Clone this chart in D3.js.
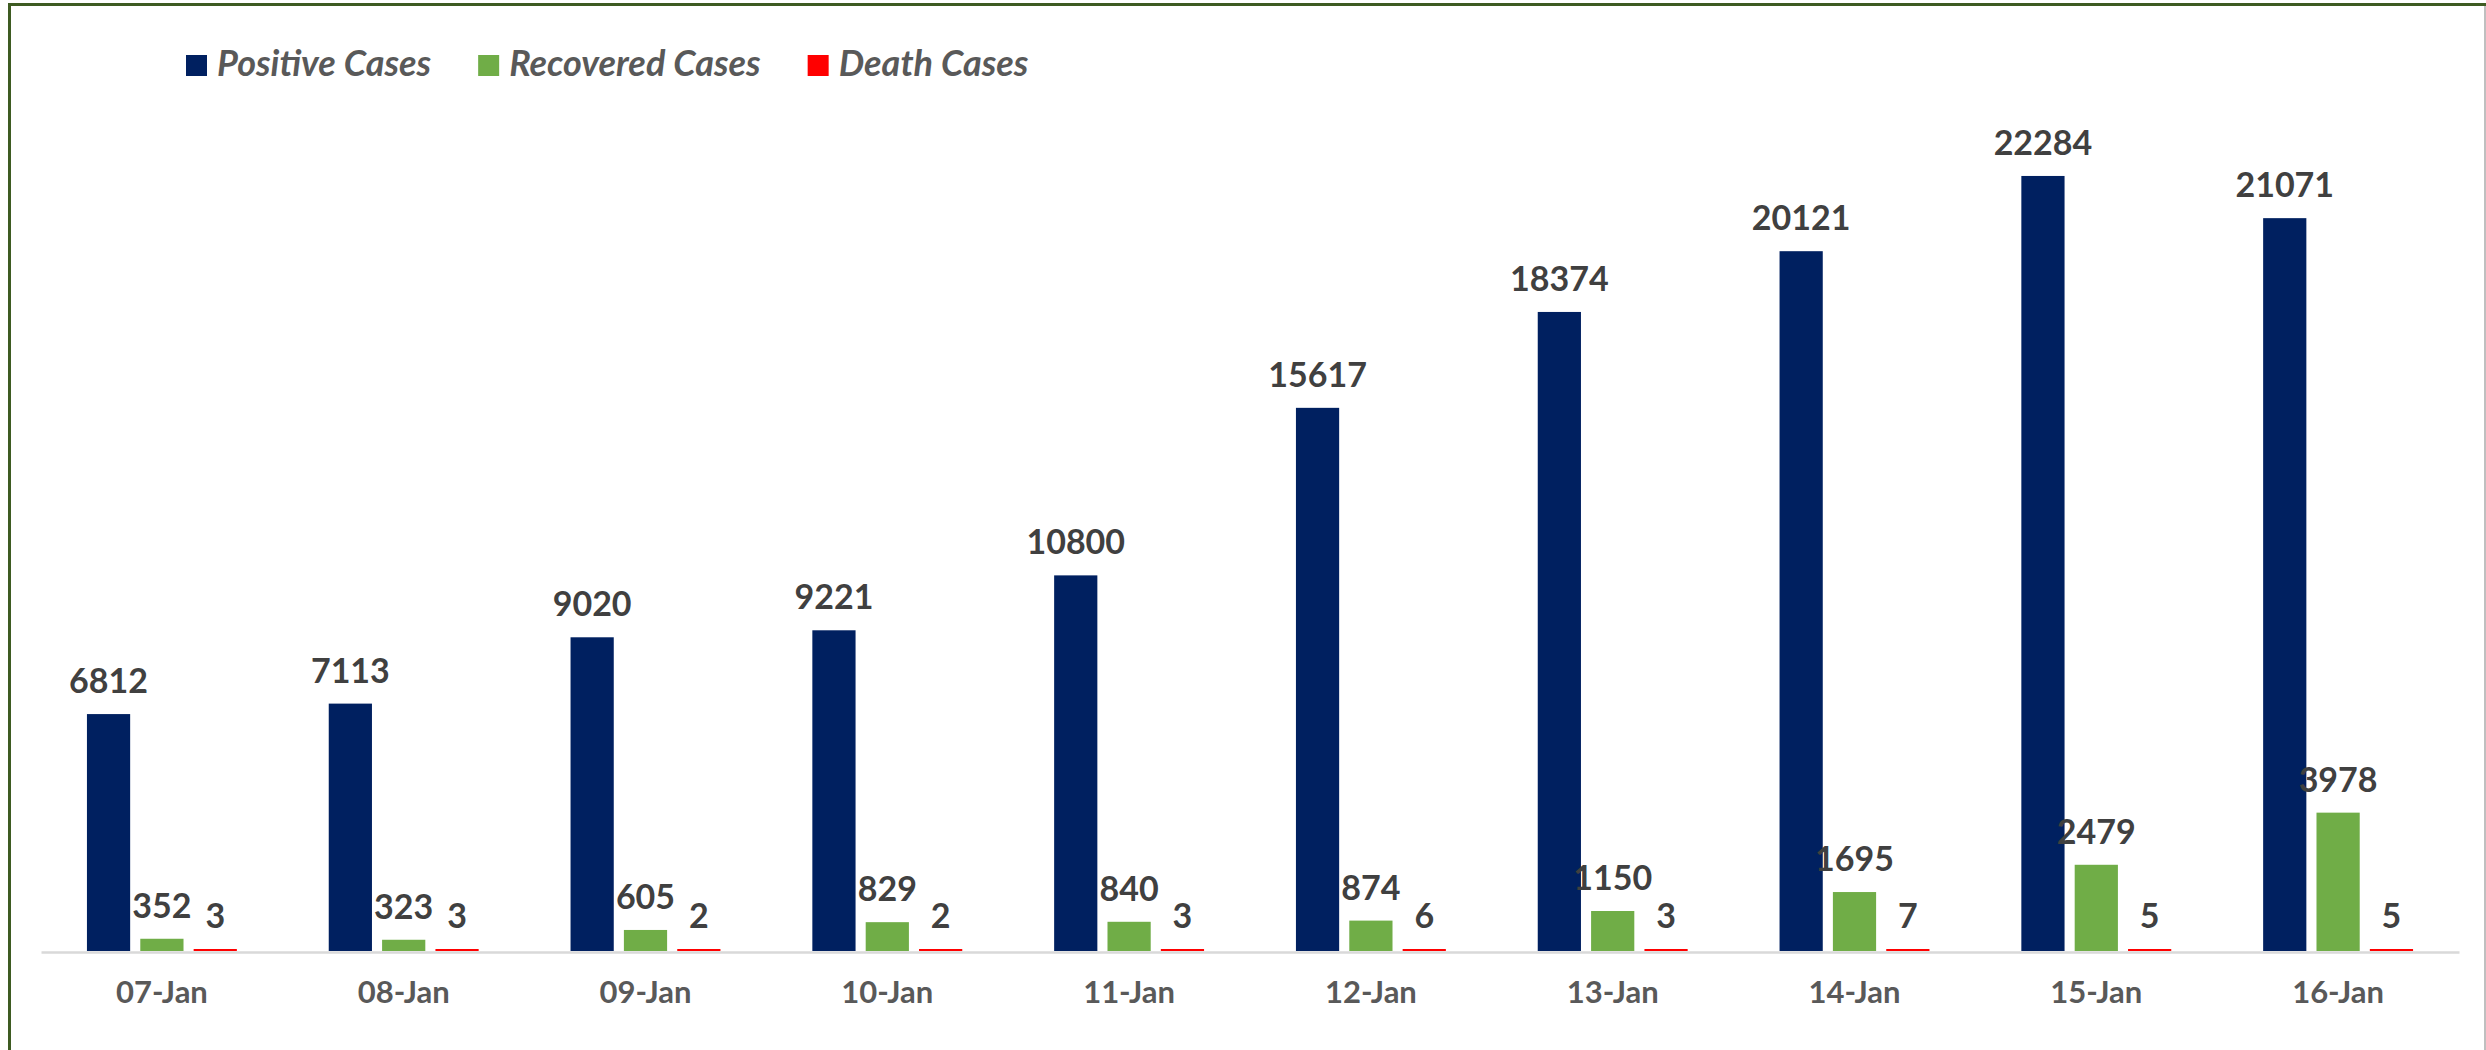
<!DOCTYPE html>
<html>
<head>
<meta charset="utf-8">
<script src="https://cdn.jsdelivr.net/npm/d3@7"></script>
<style>
  html, body { margin: 0; padding: 0; background: #ffffff; }
  svg { display: block; }
</style>
</head>
<body>
<svg id="chart" width="2486" height="1050"></svg>
<script>
const dates = ["07-Jan", "08-Jan", "09-Jan", "10-Jan", "11-Jan", "12-Jan", "13-Jan", "14-Jan", "15-Jan", "16-Jan"];
const seriesNames = ["Positive Cases", "Recovered Cases", "Death Cases"];
const positive = [6812, 7113, 9020, 9221, 10800, 15617, 18374, 20121, 22284, 21071];
const recovered = [352, 323, 605, 829, 840, 874, 1150, 1695, 2479, 3978];
const deaths = [3, 3, 2, 2, 3, 6, 3, 7, 5, 5];
const colors = ["#002060", "#70AD47", "#FF0000"];

const seriesValues = [positive, recovered, deaths];
const rows = dates.map((d, i) => ({ date: d, values: seriesNames.map((s, k) => ({ key: s, value: seriesValues[k][i], k })) }));

const W = 2486, H = 1050;
const svg = d3.select("#chart");
const FONT = "Lato, 'Open Sans', 'DejaVu Sans', sans-serif";

// frame
svg.append("line").attr("x1", 8).attr("x2", W).attr("y1", 4.5).attr("y2", 4.5)
  .attr("stroke", "#3E5B22").attr("stroke-width", 3);
svg.append("line").attr("x1", 9.5).attr("x2", 9.5).attr("y1", 3).attr("y2", H)
  .attr("stroke", "#3E5B22").attr("stroke-width", 3);
svg.append("line").attr("x1", 2485).attr("x2", 2485).attr("y1", 6).attr("y2", H)
  .attr("stroke", "#BFBFBF").attr("stroke-width", 2);

const x0 = d3.scaleBand().domain(dates).range([41, 2459]).paddingInner(0.38).paddingOuter(0.19);
const x1 = d3.scaleBand().domain(seriesNames).range([0, x0.bandwidth()]).paddingInner(0.19);
const y = d3.scaleLinear().domain([0, 25000]).range([951, 81.5]);
const color = d3.scaleOrdinal().domain(seriesNames).range(colors);

const g = svg.append("g");
const groups = g.selectAll("g.grp").data(rows).join("g")
  .attr("class", "grp")
  .attr("transform", d => `translate(${x0(d.date)},0)`);

groups.selectAll("rect").data(d => d.values).join("rect")
  .attr("x", d => x1(d.key))
  .attr("width", x1.bandwidth())
  .attr("y", d => Math.min(y(d.value), y(0) - 2))
  .attr("height", d => Math.max(2, y(0) - y(d.value)))
  .attr("fill", d => color(d.key));

groups.selectAll("text").data(d => d.values).join("text")
  .attr("x", d => x1(d.key) + x1.bandwidth() / 2)
  .attr("y", d => Math.min(y(d.value), y(0) - 2) - 21)
  .attr("text-anchor", "middle")
  .attr("font-family", FONT)
  .attr("font-weight", "bold")
  .attr("font-size", 34)
  .attr("fill", "#404040")
  .text(d => d.value);

// x axis
const xAxis = d3.axisBottom(x0).tickSize(0).tickPadding(0).tickSizeOuter(0);
const ax = svg.append("g").attr("transform", `translate(0,${y(0) + 1})`).call(xAxis);
ax.select(".domain").attr("stroke", "#D9D9D9").attr("stroke-width", 2.5);
ax.selectAll(".tick text")
  .attr("dy", 0)
  .attr("y", 51)
  .attr("font-family", FONT)
  .attr("font-weight", "bold")
  .attr("font-size", 31)
  .attr("fill", "#595959");

// legend
const legend = svg.append("g");
let lx = 186;
seriesNames.forEach((s, i) => {
  legend.append("rect").attr("x", lx).attr("y", 55).attr("width", 21).attr("height", 21).attr("fill", colors[i]);
  const t = legend.append("text").attr("x", lx + 31).attr("y", 76)
    .attr("font-family", FONT).attr("font-weight", "bold").attr("font-style", "italic")
    .attr("font-size", 36).attr("fill", "#595959").text(s);
  lx = lx + 31 + t.node().getComputedTextLength() + 47;
});
</script>
</body>
</html>
